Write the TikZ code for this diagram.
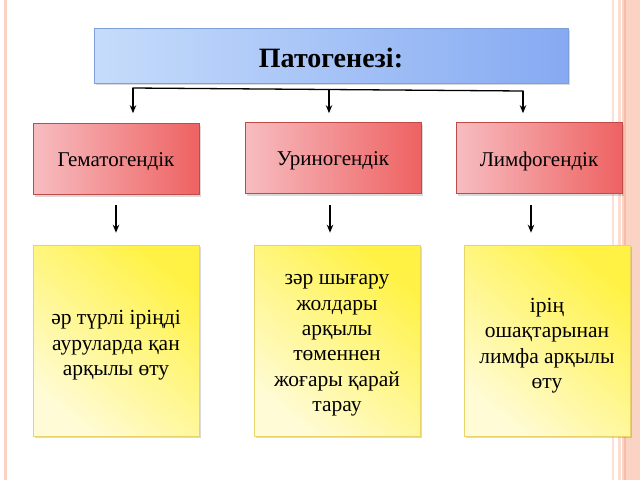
\documentclass[tikz,border=0pt]{standalone}
\usepackage{fontspec}
\setmainfont{Liberation Serif}
\usetikzlibrary{arrows.meta,shadows}
\definecolor{blueL}{HTML}{C6DCFB}
\definecolor{blueR}{HTML}{86AAF2}
\definecolor{blueB}{HTML}{7F9FD8}
\definecolor{redL}{HTML}{F7BDC1}
\definecolor{redR}{HTML}{EE6262}
\definecolor{redB}{HTML}{BE4B48}
\definecolor{yelT}{HTML}{FFF244}
\definecolor{yelB}{HTML}{FFFBD6}
\definecolor{yelBorder}{HTML}{E9D46C}
\definecolor{salmon}{HTML}{FAD3C5}
\definecolor{salmonD}{HTML}{F5BCA8}
\begin{document}
\begin{tikzpicture}[x=1pt,y=-1pt,
  shadowed/.style={drop shadow={shadow xshift=1.5pt,shadow yshift=-2pt,opacity=0.25,fill=black!60}},
  titlebox/.style={shadowed,draw=blueB,line width=0.6pt,left color=blueL,right color=blueR,
    minimum width=474pt,minimum height=55pt,inner sep=0pt},
  titletext/.style={inner sep=0pt,font=\bfseries\fontsize{28}{31}\selectfont},
  redbox/.style={shadowed,draw=redB,line width=0.7pt,left color=redL,right color=redR,
    minimum height=71pt,inner sep=0pt},
  redtext/.style={inner sep=0pt,font=\fontsize{21}{24}\selectfont},
  yelbox/.style={shadowed,draw=yelBorder,line width=0.6pt,top color=yelT,bottom color=yelB,shading angle=-40,
    minimum width=166pt,minimum height=191pt,inner sep=0pt},
  yeltext/.style={inner sep=0pt,align=center,font=\fontsize{21.5}{25.4}\selectfont},
  conn/.style={line width=1.3pt,black},
  arr/.style={conn,-{Stealth[length=8pt,width=6.5pt]}}
]
\useasboundingbox (0,0) rectangle (640,480);
% page decorations
\fill[salmon] (3.5,0) rectangle (7,480);
\fill[salmon!70] (612,0) rectangle (614,480);
\fill[salmon!80] (618,0) rectangle (620.5,480);
\fill[salmon] (622,0) rectangle (640,480);
\fill[salmonD] (624,0) rectangle (625.5,480);
\fill[salmonD!70] (631,0) rectangle (632,480);
% title
\node[titlebox] (t) at (331,55.5) {};
\node[titletext] (tt) at ([yshift=-2pt]t.center) {Патогенезі:};
% red boxes
\node[redbox,minimum width=166pt] (g) at (116,159) {};
\node[redbox,minimum width=176pt] (u) at (333,158) {};
\node[redbox,minimum width=166pt] (l) at (539,158) {};
\node[redtext] (gt) at ([yshift=-3pt]g.center) {Гематогендік};
\node[redtext] (ut) at ([yshift=-3pt]u.center) {Уриногендік};
\node[redtext] (lt) at ([yshift=-3pt]l.center) {Лимфогендік};
% yellow boxes
\node[yelbox] (y1) at (116,340.5) {};
\node[yelbox] (y2) at (337,340.5) {};
\node[yelbox] (y3) at (547,340.5) {};
\node[yeltext] (y1t) at ([yshift=-5pt]y1.center) {әр түрлі іріңді\\ ауруларда қан\\ арқылы өту};
\node[yeltext] (y2t) at ([yshift=-5pt]y2.center) {зәр шығару\\ жолдары\\ арқылы\\ төменнен\\ жоғары қарай\\ тарау};
\node[yeltext] (y3t) at ([yshift=-5pt]y3.center) {ірің\\ ошақтарынан\\ лимфа арқылы\\ өту};
% bracket
\coordinate (bl) at (133,88);
\coordinate (bm) at (329,89.5);
\coordinate (br) at (523,91);
\draw[conn,line cap=rect] (bl) -- (br);
\draw[arr] (bl) -- (bl |- g.north) [shorten >=10pt];
\draw[arr] (bm) -- (bm |- u.north) [shorten >=9pt];
\draw[arr] (br) -- (br |- l.north) [shorten >=9pt];
% lower arrows
\coordinate (a1) at (116,205);
\coordinate (a2) at (330,205);
\coordinate (a3) at (531,205);
\draw[arr] (a1) -- (a1 |- y1.north) [shorten >=12pt];
\draw[arr] (a2) -- (a2 |- y2.north) [shorten >=12pt];
\draw[arr] (a3) -- (a3 |- y3.north) [shorten >=12pt];
\end{tikzpicture}
\end{document}
